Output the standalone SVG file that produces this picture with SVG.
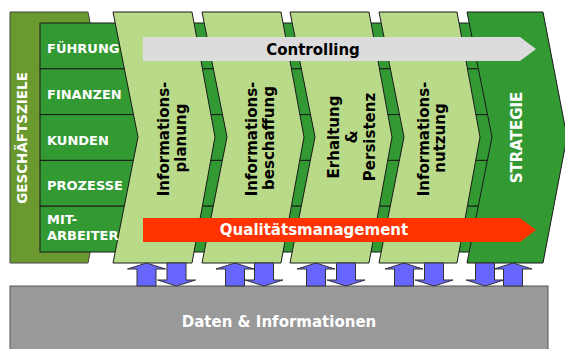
<svg xmlns="http://www.w3.org/2000/svg" width="565" height="349" viewBox="0 0 565 349">
<style>
.t{font-family:"DejaVu Sans",Verdana,sans-serif;font-weight:bold;}
.w{fill:#ffffff;}
.k{fill:#000000;}
.row{fill:#339933;stroke:#1a1a1a;stroke-width:1;}
.chev{fill:#B9DA89;stroke:#1a1a1a;stroke-width:1;}
.blue{fill:#6666FF;stroke:#333333;stroke-width:1;}
</style>
<defs>
<polygon id="up" points="0,0 19,6 9.5,6 9.5,23 -9.5,23 -9.5,6 -19,6"/>
<polygon id="down" points="0,23 19,17 9.5,17 9.5,0 -9.5,0 -9.5,17 -19,17"/>
</defs>
<rect width="565" height="349" fill="#ffffff"/>

<g id="geschaeftsziele">
<polygon points="10,12 88,12 113,137 88,263 10,263" fill="#6A992F" stroke="#444444" stroke-width="1"/>
<text class="t w" font-size="13.5" text-anchor="middle" transform="translate(27,138) rotate(-90)">GESCHÄFTSZIELE</text>
</g>

<g id="rows">
<rect class="row" x="40" y="23" width="480" height="45.8"/>
<rect class="row" x="40" y="68.8" width="480" height="45.8"/>
<rect class="row" x="40" y="114.6" width="480" height="45.8"/>
<rect class="row" x="40" y="160.4" width="480" height="45.8"/>
<rect class="row" x="40" y="206.2" width="480" height="45.8"/>
</g>

<g id="chevron-planung">
<polygon class="chev" points="113,12 192,12 215,137 192,263 113,263 138,137"/>
<text class="t k" font-size="15" text-anchor="middle" transform="translate(169,139) rotate(-90)">Informations-</text>
<text class="t k" font-size="15" text-anchor="middle" transform="translate(186,138) rotate(-90)">planung</text>
</g>

<g id="chevron-beschaffung">
<polygon class="chev" points="202,12 281,12 304,137 281,263 202,263 227,137"/>
<text class="t k" font-size="15" text-anchor="middle" transform="translate(257,139) rotate(-90)">Informations-</text>
<text class="t k" font-size="15" text-anchor="middle" transform="translate(274,138) rotate(-90)">beschaffung</text>
</g>

<g id="chevron-erhaltung">
<polygon class="chev" points="290,12 369,12 392,137 369,263 290,263 315,137"/>
<text class="t k" font-size="15" text-anchor="middle" transform="translate(339,137) rotate(-90)">Erhaltung</text>
<text class="t k" font-size="15" text-anchor="middle" transform="translate(357,137) rotate(-90)">&amp;</text>
<text class="t k" font-size="15" text-anchor="middle" transform="translate(375,137) rotate(-90)">Persistenz</text>
</g>

<g id="chevron-nutzung">
<polygon class="chev" points="379,12 457,12 480,137 457,263 379,263 404,137"/>
<text class="t k" font-size="15" text-anchor="middle" transform="translate(429,139) rotate(-90)">Informations-</text>
<text class="t k" font-size="15" text-anchor="middle" transform="translate(445,138) rotate(-90)">nutzung</text>
</g>

<g id="strategie">
<polygon points="467,12 543,12 567,137 543,263 467,263 492,137" fill="#339933" stroke="#1a1a1a" stroke-width="1"/>
<text class="t w" font-size="15" text-anchor="middle" transform="translate(522,137.5) rotate(-90)">STRATEGIE</text>
</g>

<g id="labels">
<text class="t w" font-size="13" x="47" y="53">FÜHRUNG</text>
<text class="t w" font-size="13" x="47" y="99">FINANZEN</text>
<text class="t w" font-size="13" x="47" y="145">KUNDEN</text>
<text class="t w" font-size="13" x="47" y="190">PROZESSE</text>
<text class="t w" font-size="13" x="47" y="224">MIT-</text>
<text class="t w" font-size="13" x="47" y="240">ARBEITER</text>
</g>

<g id="controlling">
<polygon points="143,37 520,37 536,49 520,61 143,61" fill="#DCDCDC"/>
<text class="t k" font-size="15" text-anchor="middle" x="313" y="54.5">Controlling</text>
</g>

<g id="qualitaetsmanagement">
<polygon points="143,218 520,218 536,230 520,242 143,242" fill="#FF3300"/>
<text class="t w" font-size="15" text-anchor="middle" x="314" y="235">Qualitätsmanagement</text>
</g>

<g id="daten">
<rect x="10" y="286" width="538" height="70" fill="#999999" stroke="#555555" stroke-width="1"/>
<text class="t w" font-size="15" text-anchor="middle" x="279" y="327">Daten &amp; Informationen</text>
</g>

<g id="connectors">
<use href="#up" class="blue" x="146.5" y="263"/>
<use href="#down" class="blue" x="176.5" y="263"/>
<use href="#up" class="blue" x="235" y="263"/>
<use href="#down" class="blue" x="264" y="263"/>
<use href="#up" class="blue" x="316" y="263"/>
<use href="#down" class="blue" x="346" y="263"/>
<use href="#up" class="blue" x="404" y="263"/>
<use href="#down" class="blue" x="434" y="263"/>
<use href="#down" class="blue" x="485" y="263"/>
<use href="#up" class="blue" x="513" y="263"/>
</g>
</svg>
